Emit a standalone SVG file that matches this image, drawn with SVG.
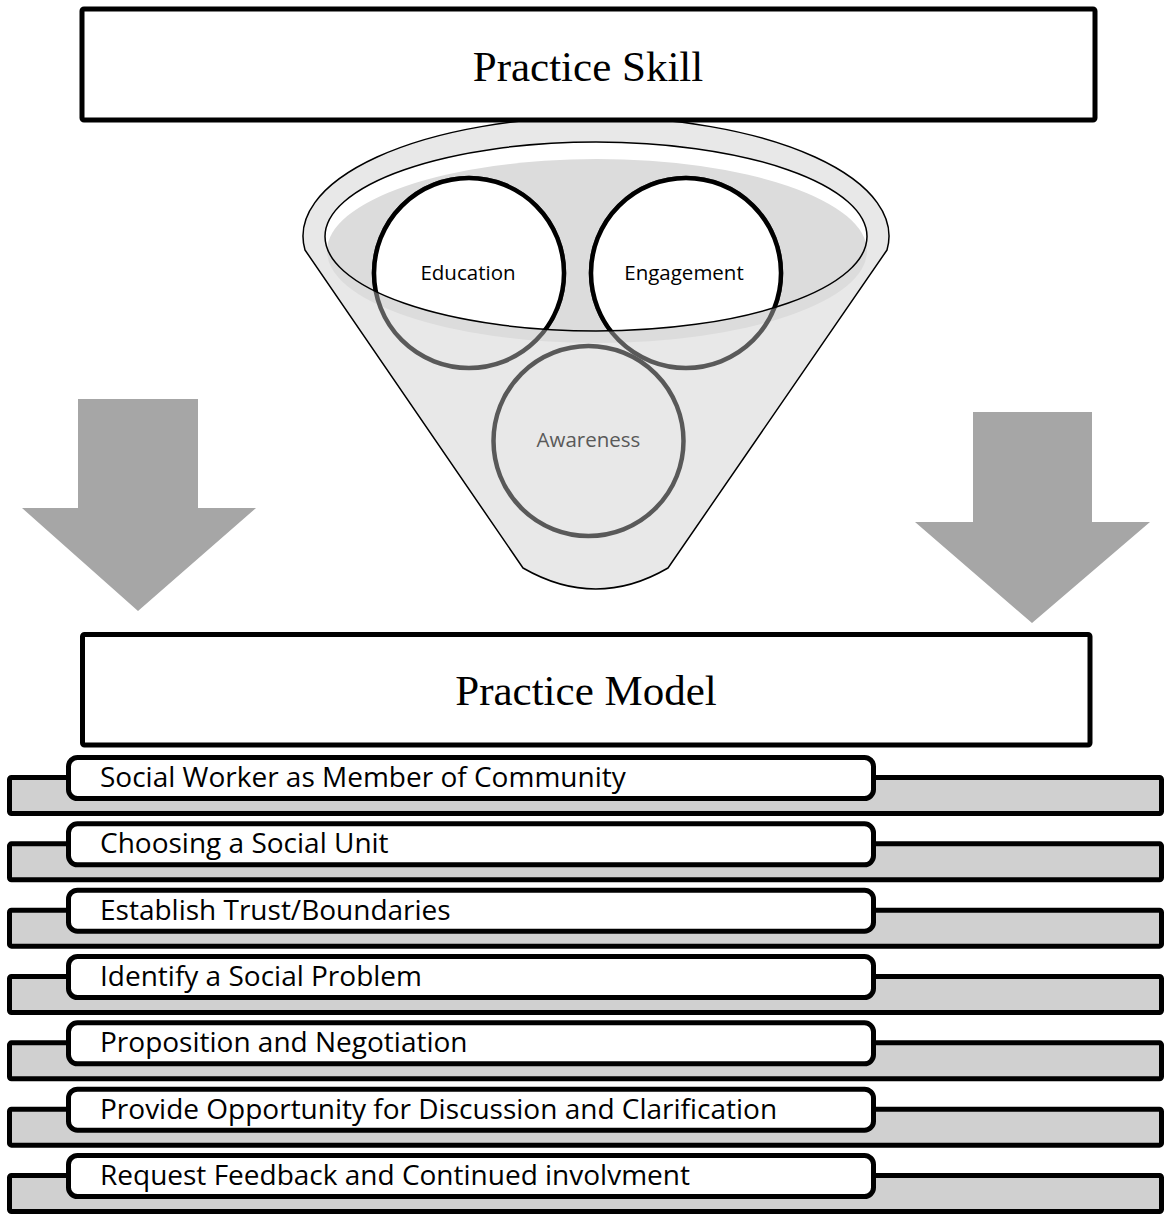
<svg xmlns="http://www.w3.org/2000/svg" width="1165" height="1215" viewBox="0 0 1165 1215">
<style>
.title{font-family:"Liberation Serif","Times New Roman",serif;font-size:43px;fill:#000;text-anchor:middle}
.lbl{font-family:"Open Sans","Liberation Sans",sans-serif;font-size:20.5px;fill:#000;text-anchor:middle}
.item{font-family:"Open Sans","Liberation Sans",sans-serif;font-size:28px;fill:#000}
.box{fill:#fff;stroke:#000;stroke-width:5}
.arrow{fill:#a6a6a6}
.bar{fill:#d0d0d0;stroke:#000;stroke-width:5;stroke-linejoin:round}
.tab{fill:#fff;stroke:#000;stroke-width:5}
</style>
<defs>
<clipPath id="inner"><ellipse cx="596" cy="236.5" rx="271" ry="94.5"/></clipPath>
<g id="itemShape">
<rect class="bar" x="9.5" y="777.5" width="1152" height="36" rx="2"/>
<rect class="tab" x="68.5" y="757.5" width="805" height="41" rx="9"/>
</g>
</defs>

<g id="arrows">
<polygon class="arrow" points="78,399 198,399 198,508 256,508 138,611 22,508 78,508"/>
<polygon class="arrow" points="973,412 1092,412 1092,522 1150,522 1032,623 915,522 973,522"/>
</g>

<g id="funnel">
<path d="M305,250 L523,568 Q596,610 668,568 L887,250 A293 119 0 1 0 305,250 Z" fill="#e8e8e8" stroke="#000" stroke-width="1.5" stroke-linejoin="round"/>
<ellipse cx="596" cy="236.5" rx="271" ry="94.5" fill="#fff"/>
<ellipse cx="597" cy="251" rx="270" ry="92" fill="#dcdcdc"/>
</g>

<g id="awareness">
<circle cx="588.5" cy="441" r="95" fill="none" stroke="#595959" stroke-width="4.5"/>
<text class="lbl" x="588.5" y="447" style="fill:#595959">Awareness</text>
</g>

<g id="education">
<circle cx="469" cy="273" r="95" fill="none" stroke="#595959" stroke-width="4.5"/>
<circle cx="469" cy="273" r="95" fill="#fff" stroke="#000" stroke-width="4.5" clip-path="url(#inner)"/>
<text class="lbl" x="468" y="280">Education</text>
</g>

<g id="engagement">
<circle cx="686" cy="273" r="95" fill="none" stroke="#595959" stroke-width="4.5"/>
<circle cx="686" cy="273" r="95" fill="#fff" stroke="#000" stroke-width="4.5" clip-path="url(#inner)"/>
<text class="lbl" x="684" y="280">Engagement</text>
</g>

<g id="funnel-rim">
<ellipse cx="596" cy="236.5" rx="271" ry="94.5" fill="none" stroke="#000" stroke-width="1.5"/>
</g>

<g id="practice-skill">
<rect class="box" x="82" y="9" width="1013" height="111" rx="2"/>
<text class="title" x="588" y="81">Practice Skill</text>
</g>

<g id="practice-model">
<rect class="box" x="82.5" y="634.5" width="1007.5" height="110.5" rx="2"/>
<text class="title" x="586" y="705">Practice Model</text>
</g>

<g id="item1"><use href="#itemShape"/><text class="item" x="100" y="787">Social Worker as Member of Community</text></g>
<g id="item2"><use href="#itemShape" y="66.33"/><text class="item" x="100" y="853.3">Choosing a Social Unit</text></g>
<g id="item3"><use href="#itemShape" y="132.67"/><text class="item" x="100" y="919.7">Establish Trust/Boundaries</text></g>
<g id="item4"><use href="#itemShape" y="199"/><text class="item" x="100" y="986">Identify a Social Problem</text></g>
<g id="item5"><use href="#itemShape" y="265.33"/><text class="item" x="100" y="1052.3">Proposition and Negotiation</text></g>
<g id="item6"><use href="#itemShape" y="331.67"/><text class="item" x="100" y="1118.7">Provide Opportunity for Discussion and Clarification</text></g>
<g id="item7"><use href="#itemShape" y="398"/><text class="item" x="100" y="1185">Request Feedback and Continued involvment</text></g>
</svg>
